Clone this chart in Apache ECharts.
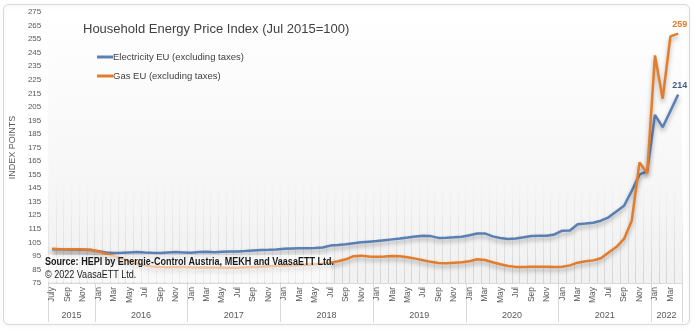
<!DOCTYPE html>
<html><head><meta charset="utf-8">
<script src="https://cdn.jsdelivr.net/npm/echarts@6/dist/echarts.min.js"></script>
<style>html,body{margin:0;padding:0;background:#fff}#c{width:700px;height:335px}</style>
</head><body><div id="c"></div>
<script>
const monthNames = ['Jan','Feb','Mar','Apr','May','Jun','Jul','Aug','Sep','Oct','Nov','Dec'];
const years = [2015, 2016, 2017, 2018, 2019, 2020, 2021, 2022];
const yTicks = [75, 275, 10]; // min, max, step
const categories = [];
years.forEach(function (y) {
  const from = y === 2015 ? 6 : 0;
  const to = y === 2022 ? 3 : 11;
  for (let m = from; m <= to; m++) categories.push(monthNames[m] + ' ' + y);
});
const electricity = [
  100, 100, 99.8, 99.8, 99.6, 99.4,
  98.5, 97.6, 97.2, 97.3, 97.6, 97.8, 97.5, 97.3, 97.2, 97.5, 97.8, 97.6,
  97.4, 97.8, 98.0, 97.7, 98.0, 98.2, 98.3, 98.6, 99.0, 99.3, 99.5, 99.8,
  100.3, 100.5, 100.6, 100.6, 100.8, 101.2, 102.6, 103.0, 103.6, 104.4, 105.0, 105.5,
  106.0, 106.6, 107.2, 107.8, 108.5, 109.3, 109.8, 109.6, 108.3, 108.4, 108.7, 109.2,
  110.3, 111.6, 111.6, 109.4, 108.2, 107.4, 107.8, 108.7, 109.7, 109.9, 109.8, 110.8,
  113.6, 113.8, 118.4, 118.9, 119.5, 121.0, 123.5, 127.8, 132.0, 143.0, 155.0, 157.5,
  199.0, 190.0, 202.0, 214.0
];
const gas = [
  100.2, 100.0, 99.9, 100.0, 99.8, 99.6,
  98.2, 96.5, 95.0, 93.0, 91.2, 89.5, 88.0, 87.2, 86.8, 86.6, 86.8, 86.8,
  86.6, 86.5, 86.4, 86.5, 86.3, 86.2, 86.3, 86.6, 86.8, 87.0, 87.3, 87.5,
  87.8, 88.0, 88.2, 88.5, 88.8, 89.3, 90.0, 91.0, 92.5, 94.8, 95.2, 94.6,
  94.3, 94.5, 95.0, 94.8, 94.0, 93.0, 91.8, 90.6, 89.8, 89.6, 90.0, 90.3,
  91.0, 92.5, 92.0, 90.3, 88.8, 87.6, 86.9, 86.8, 87.0, 87.0, 87.0, 86.8,
  87.0, 88.0, 90.0, 91.0, 91.7, 93.3, 97.5, 101.5, 107.5, 121.0, 164.0, 156.0,
  243.0, 211.0, 257.0, 259.0
];
const seriesNames = ['Electricity EU (excluding taxes)', 'Gas EU (excluding taxes)'];
const endLabels = ['214', '259'];

const blue = '#5A7FB5', orange = '#E47C2A';
const chart = echarts.init(document.getElementById('c'), null, {renderer: 'canvas'});

function endLabel(text, color) {
  return {show: true, formatter: text, color: color, fontWeight: 'bold', fontSize: 9,
    fontFamily: 'Liberation Sans', offset: [-14, -9]};
}

const option = {
  animation: false,
  backgroundColor: '#fff',
  title: {
    text: 'Household Energy Price Index (Jul 2015=100)',
    left: 78, top: 18,
    textStyle: {fontSize: 13, fontWeight: 'normal', color: '#404040', fontFamily: 'Liberation Sans'}
  },
  legend: {
    left: 92, top: 47, orient: 'vertical', itemGap: 9,
    itemWidth: 16, itemHeight: 3, icon: 'rect',
    textStyle: {fontSize: 9.5, color: '#404040', fontFamily: 'Liberation Sans', padding: [0, 0, 0, -5]},
    data: seriesNames
  },
  grid: {
    left: 41, right: 18, top: 12, bottom: 52, show: true, borderWidth: 0,
    backgroundColor: {type: 'linear', x: 0, y: 0, x2: 0, y2: 1,
      colorStops: [{offset: 0, color: '#ffffff'}, {offset: 1, color: '#f1f1f1'}]}
  },
  xAxis: {
    type: 'category', data: categories, boundaryGap: true,
    axisLine: {show: true, lineStyle: {color: '#d9d9d9'}},
    axisTick: {show: false},
    axisLabel: {
      interval: 1, rotate: 90, fontSize: 8.5, color: '#595959', margin: 4,
      fontFamily: 'Liberation Sans',
      formatter: function (v, i) { return i === 0 ? 'July' : v.split(' ')[0]; }
    },
    splitLine: {show: true, interval: 0, lineStyle: {width: 1, color: {
      type: 'linear', x: 0, y: 180, x2: 0, y2: 283, global: true,
      colorStops: [{offset: 0, color: 'rgba(205,205,205,0)'}, {offset: 1, color: 'rgba(200,200,200,0.7)'}]}}}
  },
  yAxis: {
    type: 'value', min: yTicks[0], max: yTicks[1], interval: yTicks[2],
    name: 'INDEX POINTS', nameLocation: 'middle', nameGap: 23,
    nameTextStyle: {fontSize: 9, color: '#595959', fontFamily: 'Liberation Sans'},
    axisLine: {show: false}, axisTick: {show: false}, splitLine: {show: false},
    axisLabel: {fontSize: 8, color: '#595959', margin: 7, fontFamily: 'Liberation Sans'}
  },
  series: [
    {name: seriesNames[0], type: 'line', data: electricity,
      symbol: 'none', color: blue, endLabel: endLabel(endLabels[0], '#3F5F8A'),
      lineStyle: {width: 2.5, color: blue, shadowColor: 'rgba(0,0,0,0.3)', shadowBlur: 4, shadowOffsetY: 3}},
    {name: seriesNames[1], type: 'line', data: gas,
      symbol: 'none', color: orange, endLabel: endLabel(endLabels[1], '#E07B2C'),
      lineStyle: {width: 2.5, color: orange, shadowColor: 'rgba(0,0,0,0.3)', shadowBlur: 4, shadowOffsetY: 3}}
  ]
};
chart.setOption(option);

// year row and separators derived from the axis scale
const c0 = chart.convertToPixel({xAxisIndex: 0}, categories[0]);
const c1 = chart.convertToPixel({xAxisIndex: 0}, categories[1]);
const band = c1 - c0;
const gridBottom = chart.convertToPixel({yAxisIndex: 0}, yTicks[0]);
const g = [];
g.push({type: 'rect', shape: {x: 3.5, y: 4.5, width: 686, height: 320, r: 5},
  style: {fill: 'none', stroke: '#d9d9d9', lineWidth: 1, shadowColor: 'rgba(0,0,0,0.12)', shadowBlur: 4, shadowOffsetY: 1}, z: -1, silent: true});
let startIdx = 0;
years.forEach(function (y) {
  let endIdx = startIdx;
  while (endIdx + 1 < categories.length && categories[endIdx + 1].endsWith(String(y))) endIdx++;
  const xs = chart.convertToPixel({xAxisIndex: 0}, categories[startIdx]) - band / 2;
  const xe = chart.convertToPixel({xAxisIndex: 0}, categories[endIdx]) + band / 2;
  g.push({type: 'line', shape: {x1: Math.round(xs) + 0.5, y1: gridBottom, x2: Math.round(xs) + 0.5, y2: 322},
    style: {stroke: '#d9d9d9', lineWidth: 1}, silent: true});
  if (endIdx === categories.length - 1) {
    g.push({type: 'line', shape: {x1: Math.round(xe) + 0.5, y1: gridBottom, x2: Math.round(xe) + 0.5, y2: 322},
      style: {stroke: '#d9d9d9', lineWidth: 1}, silent: true});
  }
  g.push({type: 'text', x: (xs + xe) / 2, y: 316, silent: true,
    style: {text: String(y), fill: '#595959', fontSize: 9, fontFamily: 'Liberation Sans', align: 'center', verticalAlign: 'middle'}});
  startIdx = endIdx + 1;
});
g.push({type: 'rect', shape: {x: 43, y: 255, width: 288, height: 27},
  style: {fill: 'rgba(255,255,255,0.55)'}, silent: true, z: 10});
g.push({type: 'text', x: 45, y: 262, z: 11, scaleX: 0.86, silent: true,
  style: {text: 'Source: HEPI by Energie-Control Austria, MEKH and VaasaETT Ltd.', fill: '#1a1a1a',
    fontSize: 10.5, fontWeight: 'bold', fontFamily: 'Liberation Sans', verticalAlign: 'middle'}});
g.push({type: 'text', x: 45, y: 275, z: 11, scaleX: 0.86, silent: true,
  style: {text: '\u00A9 2022 VaasaETT Ltd.', fill: '#1a1a1a',
    fontSize: 10.5, fontFamily: 'Liberation Sans', verticalAlign: 'middle'}});
chart.setOption({graphic: {elements: g}});
</script>
</body></html>
